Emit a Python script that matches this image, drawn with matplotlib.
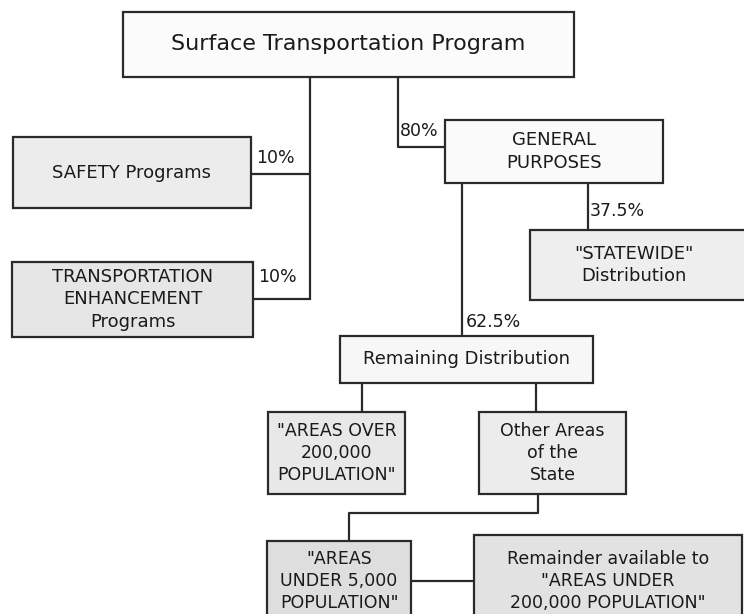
import matplotlib
matplotlib.use("Agg")
import matplotlib.pyplot as plt
from matplotlib.patches import Rectangle

# node labels
labels = {
    "stp": "Surface Transportation Program",
    "safety": "SAFETY Programs",
    "te": "TRANSPORTATION\nENHANCEMENT\nPrograms",
    "gp": "GENERAL\nPURPOSES",
    "statewide": "\"STATEWIDE\"\nDistribution",
    "remaining": "Remaining Distribution",
    "over200k": "\"AREAS OVER\n200,000\nPOPULATION\"",
    "other": "Other Areas\nof the\nState",
    "under5k": "\"AREAS\nUNDER 5,000\nPOPULATION\"",
    "remainder": "Remainder available to\n\"AREAS UNDER\n200,000 POPULATION\"",
}

# split shares shown on the connectors
shares = {"safety": "10%", "te": "10%", "gp": "80%",
          "statewide": "37.5%", "remaining": "62.5%"}

# layout in pixels: x0, y0, x1, y1, fill, font size
boxes = {
    "stp":       (123, 12, 574, 77, "#fbfbfb", 16),
    "safety":    (13, 137, 251, 208, "#ececec", 13),
    "te":        (12, 262, 253, 337, "#e6e6e6", 13),
    "gp":        (445, 120, 663, 183, "#fafafa", 13),
    "statewide": (530, 230, 760, 300, "#eeeeee", 13),
    "remaining": (340, 336, 593, 383, "#f7f7f7", 13),
    "over200k":  (268, 412, 405, 494, "#e8e8e8", 12.5),
    "other":     (479, 412, 626, 494, "#ececec", 12.5),
    "under5k":   (267, 541, 411, 621, "#dedede", 12.5),
    "remainder": (474, 535, 742, 625, "#e2e2e2", 12.5),
}

fig = plt.figure(figsize=(7.44, 6.14), dpi=100)
ax = fig.add_axes([0, 0, 1, 1])
ax.set_xlim(0, 744)
ax.set_ylim(614, 0)
ax.axis("off")

line_kw = dict(color="#2a2a2a", lw=1.6, solid_capstyle="butt", zorder=1)

# connectors
ax.plot([310, 310], [77, 300], **line_kw)
ax.plot([251, 310], [174, 174], **line_kw)
ax.plot([253, 310], [299, 299], **line_kw)
ax.plot([398, 398, 445], [77, 147, 147], **line_kw)
ax.plot([462, 462], [183, 336], **line_kw)
ax.plot([588, 588], [183, 230], **line_kw)
ax.plot([362, 362], [383, 412], **line_kw)
ax.plot([536, 536], [383, 412], **line_kw)
ax.plot([538, 538, 349, 349], [494, 513, 513, 541], **line_kw)
ax.plot([411, 474], [581, 581], **line_kw)

for key, (x0, y0, x1, y1, fill, fs) in boxes.items():
    ax.add_patch(Rectangle((x0, y0), x1 - x0, y1 - y0, facecolor=fill,
                           edgecolor="#2a2a2a", lw=1.6, zorder=2))
    cx = (x0 + min(x1, 744)) / 2 if key != "statewide" else 634
    cy = (y0 + min(y1, 614)) / 2
    if key in ("remainder", "under5k"):
        cy = 581
    ax.text(cx, cy, labels[key], ha="center", va="center", fontsize=fs,
            family="DejaVu Sans", color="#1a1a1a", linespacing=1.3,
            zorder=3)

# percentage labels
share_pos = {"safety": (256, 158), "te": (258, 277), "gp": (400, 131),
             "statewide": (590, 211), "remaining": (466, 322)}
for key, (x, y) in share_pos.items():
    ax.text(x, y, shares[key], ha="left", va="center", fontsize=12.5,
            family="DejaVu Sans", color="#1a1a1a", zorder=3)

fig.savefig("out.png", dpi=100)
